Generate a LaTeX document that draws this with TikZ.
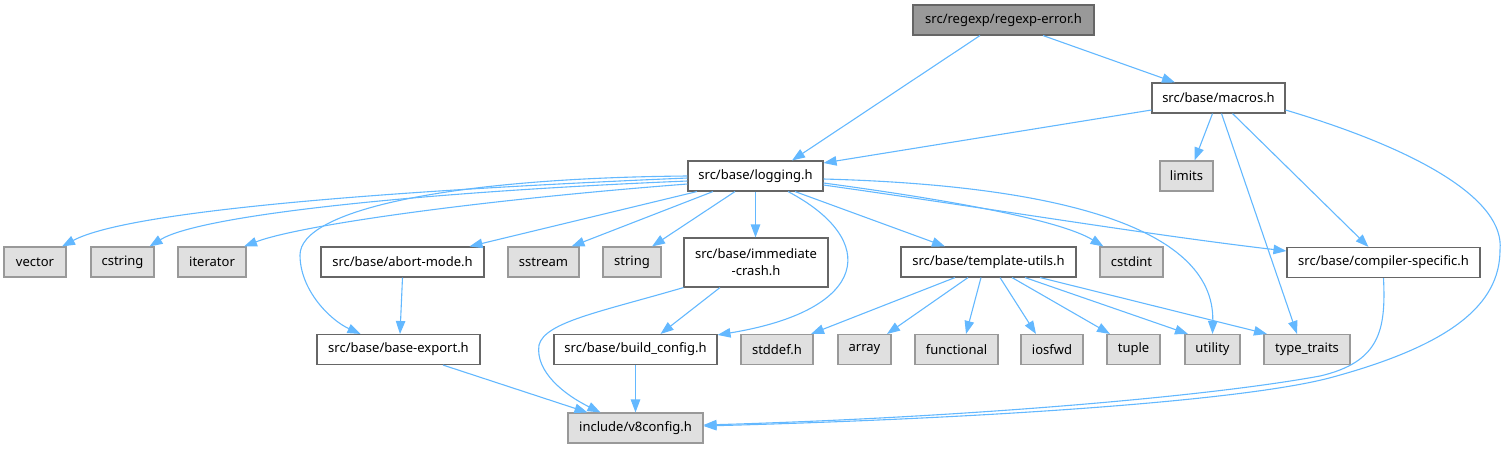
\documentclass[tikz,border=0pt]{standalone}
\usepackage{fontspec}
\setmainfont{Noto Sans}
\usetikzlibrary{arrows.meta,calc}
\definecolor{edgec}{HTML}{63B8FF}
\definecolor{nodeborder}{HTML}{666666}
\definecolor{sysborder}{HTML}{999999}
\definecolor{sysfill}{HTML}{E0E0E0}
\definecolor{rootfill}{HTML}{999999}
\definecolor{rootborder}{HTML}{666666}
\begin{document}
\begin{tikzpicture}[x=1pt,y=-1pt,
  box/.style={draw=nodeborder, fill=white, line width=1.1pt, rectangle, inner sep=0pt,
    minimum height=30pt, font=\fontsize{13}{17}\selectfont},
  sys/.style={box, draw=sysborder, fill=sysfill},
  root/.style={box, draw=rootborder, fill=rootfill},
  edge/.style={draw=edgec, line width=1.1pt, -{Triangle[length=13pt,width=9.5pt]}}
]
\useasboundingbox (0,0) rectangle (1506,448);

% nodes
\node[root, minimum width=181pt] (re) at (1003.5,20) {src/regexp/regexp-error.h};
\node[box, minimum width=133pt] (mac) at (1218.5,98) {src/base/macros.h};
\node[box, minimum width=135pt] (log) at (755.5,176) {src/base/logging.h};
\node[sys, minimum width=53pt] (lim) at (1186.5,176) {limits};

\node[sys, minimum width=62pt] (vec) at (35,262) {vector};
\node[sys, minimum width=63pt] (cstr) at (122.5,262) {cstring};
\node[sys, minimum width=68pt] (iter) at (212,262) {iterator};
\node[box, minimum width=163pt] (abort) at (402.5,262) {src/base/abort-mode.h};
\node[sys, minimum width=71pt] (sstr) at (543.5,262) {sstream};
\node[sys, minimum width=58pt] (str) at (632,262) {string};
\node[box, minimum width=144pt, minimum height=49pt, align=center] (imm) at (756,262.5) {src/base/immediate\\-crash.h};
\node[box, minimum width=175pt] (tu) at (988.5,262) {src/base/template-utils.h};
\node[sys, minimum width=63pt] (cstd) at (1131.5,262) {cstdint};
\node[box, minimum width=193pt] (cs) at (1383.5,262.5) {src/base/compiler-specific.h};

\node[box, minimum width=163pt] (be) at (398.5,349.5) {src/base/base-export.h};
\node[box, minimum width=163pt] (bc) at (635.5,349.5) {src/base/build\_config.h};
\node[sys, minimum width=72pt] (std) at (777,349.5) {stddef.h};
\node[sys, minimum width=53pt] (arr) at (864.5,349.5) {array};
\node[sys, minimum width=83pt] (fun) at (956.5,349.5) {functional};
\node[sys, minimum width=62pt] (ios) at (1052,349.5) {iosfwd};
\node[sys, minimum width=53pt] (tup) at (1133.5,349.5) {tuple};
\node[sys, minimum width=55pt] (uti) at (1212.5,349.5) {utility};
\node[sys, minimum width=86pt] (tt) at (1307,349.5) {type\_traits};

\node[sys, minimum width=135pt] (v8) at (635.5,428) {include/v8config.h};

% edges from root
\draw[edge] ($(re.south)+(-23.5,0)$) -- ($(log.north)+(36.5,0)$);
\draw[edge] ($(re.south)+(39.5,0)$) -- ($(mac.north)+(-43.5,0)$);

% edges from macros
\draw[edge] ($(mac.west)+(0,12)$) -- ($(log.east)+(0,-13)$);
\draw[edge] ($(mac.south)+(-6,0)$) -- ($(lim.north)+(8,0)$);
\draw[edge] ($(mac.south)+(3,0)$) -- ($(tt.north)+(-10,0)$);
\draw[edge] ($(mac.south)+(14,0)$) -- ($(cs.north)+(-15,0)$);
\draw[edge] ($(mac.east)+(0,12)$) .. controls (1420,150) and (1505,200) .. (1500,250)
  .. controls (1500,305) and (1450,345) .. (1333,377)
  .. controls (1250,400) and (1000,418) .. ($(v8.east)+(0,-2)$);

% edges from logging
\draw[edge] ($(log.west)+(0,2)$) .. controls (400,190) and (130,210) .. ($(vec.north)+(27,0)$);
\draw[edge] ($(log.west)+(0,5)$) .. controls (420,192) and (200,215) .. ($(cstr.north)+(27,0)$);
\draw[edge] ($(log.west)+(0,8)$) .. controls (480,200) and (300,225) .. ($(iter.north)+(32,0)$);
\draw[edge] (log.west) .. controls (450,178) and (300,210) .. (300,255)
  .. controls (300,290) and (330,320) .. ($(be.north)+(-38,0)$);
\draw[edge] ($(log.south)+(-58.5,0)$) -- ($(abort.north)+(67,0)$);
\draw[edge] ($(log.south)+(-42.5,0)$) -- ($(sstr.north)+(28,0)$);
\draw[edge] ($(log.south)+(-20.5,0)$) -- ($(str.north)+(20,0)$);
\draw[edge] (log.south) -- (log.south |- imm.north);
\draw[edge] ($(log.south)+(32.5,0)$) .. controls (880,240) and (870,310) .. ($(bc.north east)+(0,1)$);
\draw[edge] ($(log.south)+(39.5,0)$) -- ($(tu.north)+(-43.5,0)$);
\draw[edge] ($(log.east)+(0,7)$) .. controls (950,200) and (1060,220) .. ($(cstd.north)+(-28,0)$);
\draw[edge] ($(log.east)+(0,9)$) .. controls (1000,210) and (1150,235) .. ($(cs.west)+(0,-11.5)$);
\draw[edge] ($(log.east)+(0,3)$) .. controls (1050,185) and (1215,225) .. (uti.north);

% other edges
\draw[edge] (abort.south) -- ($(be.north)+(1.5,0)$);
\draw[edge] ($(imm.south)+(-36,0)$) -- ($(bc.north)+(25,0)$);
\draw[edge] (imm.south west) .. controls (600,312) and (545,322) .. (539,345)
  .. controls (535,372) and (565,395) .. ($(v8.north)+(-35,0)$);
\draw[edge] ($(be.south)+(44.5,0)$) -- ($(v8.north)+(-48,0)$);
\draw[edge] (bc.south) -- (v8.north);
\draw[edge] (cs.south) .. controls (1386,330) and (1380,362) .. (1320,376)
  .. controls (1200,398) and (950,418) .. ($(v8.east)+(0,-3)$);

% template-utils edges
\draw[edge] ($(tu.south)+(-33.5,0)$) -- ($(std.north)+(34,0)$);
\draw[edge] ($(tu.south)+(-20.5,0)$) -- ($(arr.north)+(22.5,0)$);
\draw[edge] ($(tu.south)+(-7.5,0)$) -- ($(fun.north)+(9.5,0)$);
\draw[edge] ($(tu.south)+(11.5,0)$) -- ($(ios.north)+(-16,0)$);
\draw[edge] ($(tu.south)+(23.5,0)$) -- ($(tup.north)+(-23.5,0)$);
\draw[edge] ($(tu.south)+(36.5,0)$) -- ($(uti.north)+(-24.5,0)$);
\draw[edge] ($(tu.south)+(51.5,0)$) -- ($(tt.north)+(-40,0)$);
\end{tikzpicture}
\end{document}
